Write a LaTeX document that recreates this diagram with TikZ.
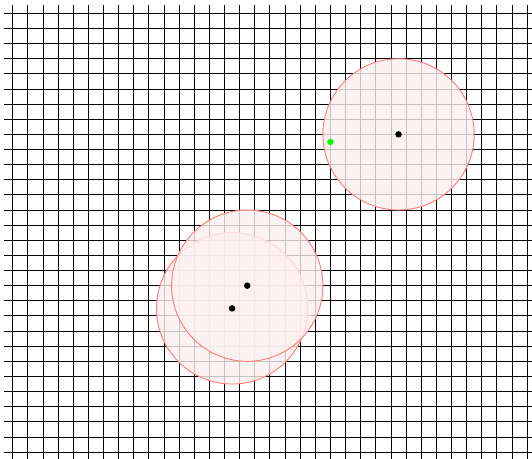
\documentclass[tikz,border=0pt]{standalone}
\usetikzlibrary{positioning}
\definecolor{cRim}{HTML}{FF7878}
\definecolor{cDisc}{HTML}{FDEFEF}
\definecolor{cHit}{HTML}{00FF00}
\tikzset{
  gridline/.style={black,line width=0.9bp},
  disc/.style={circle,draw=cRim,line width=0.9bp,fill=cDisc,fill opacity=0.8,
              minimum size=151.3bp,inner sep=0pt},
  dot/.style={circle,fill=black,inner sep=0pt,minimum size=6.5bp},
  hit/.style={circle,fill=cHit,inner sep=0pt,minimum size=6.5bp},
}

\begin{document}
\begin{tikzpicture}[x=15.13bp,y=-15.13bp]
  \useasboundingbox (-0.84,-0.88) rectangle (34.32,29.39);
  \clip (-0.84,-0.88) rectangle (34.32,29.39);
  % grid
  \foreach \i in {0,...,34} \draw[gridline] (\i,-0.55) -- (\i,30);
  \foreach \j in {0,...,29} \draw[gridline] (-0.55,\j) -- (35,\j);
  % discs
  \node[disc] (back) at (14.5,19.5) {};
  \node[disc] (front) at (15.5,18) {};
  \node[disc] (top) at (25.5,8) {};
  \node[dot] (backc) at (back.center) {};
  \node[dot] (frontc) at (front.center) {};
  \node[dot] (topc) at (top.center) {};
  \node[hit] (probe) at (21,8.5) {};
\end{tikzpicture}
\end{document}
